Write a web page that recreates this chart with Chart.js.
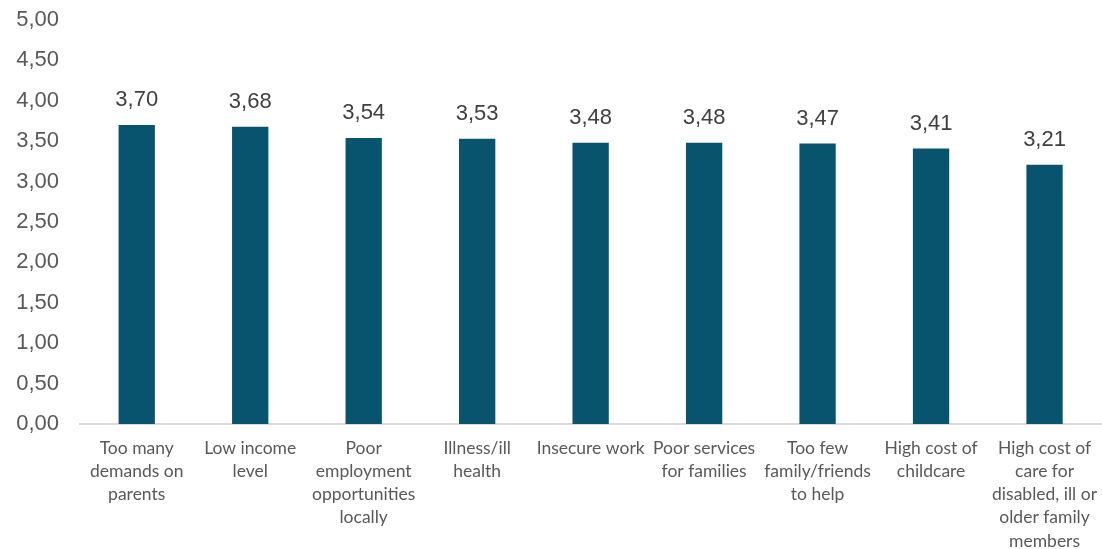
<!DOCTYPE html>
<html>
<head>
<meta charset="utf-8">
<script src="https://cdn.jsdelivr.net/npm/chart.js@4.4.1/dist/chart.umd.min.js"></script>
<style>
  html, body { margin: 0; padding: 0; background: #ffffff; }
  #wrap { width: 1102px; height: 549px; }
</style>
</head>
<body>
<div id="wrap"><canvas id="barChart" width="1102" height="549"></canvas></div>
<script>
// Categories (multi-line labels) and mean scores
const categories = [
    ['Too many', 'demands on', 'parents'],
    ['Low income', 'level'],
    ['Poor', 'employment', 'opportunities', 'locally'],
    ['Illness/ill', 'health'],
    ['Insecure work'],
    ['Poor services', 'for families'],
    ['Too few', 'family/friends', 'to help'],
    ['High cost of', 'childcare'],
    ['High cost of', 'care for', 'disabled, ill or', 'older family', 'members']
];
const scores = [3.70, 3.68, 3.54, 3.53, 3.48, 3.48, 3.47, 3.41, 3.21];
const yTicks = [0, 0.5, 1, 1.5, 2, 2.5, 3, 3.5, 4, 4.5, 5];

const barColor = '#08546f';

// Comma decimal format, two places
function fmt(v) {
    return v.toFixed(2).replace('.', ',');
}

// Value labels drawn above each bar
const valueLabels = {
    id: 'valueLabels',
    afterDatasetsDraw(chart) {
        const ctx = chart.ctx;
        const meta = chart.getDatasetMeta(0);
        ctx.save();
        ctx.font = '22px "Liberation Sans", Arial, sans-serif';
        ctx.fillStyle = '#404040';
        ctx.textAlign = 'center';
        ctx.textBaseline = 'middle';
        meta.data.forEach(function (bar, i) {
            ctx.fillText(fmt(scores[i]), bar.x, bar.y - 25);
        });
        ctx.restore();
    }
};

const ctx = document.getElementById('barChart').getContext('2d');
new Chart(ctx, {
    type: 'bar',
    data: {
        labels: categories,
        datasets: [{
            data: scores,
            backgroundColor: barColor,
            borderWidth: 0,
            barPercentage: 0.32,
            categoryPercentage: 1
        }]
    },
    options: {
        responsive: false,
        animation: false,
        layout: { padding: { top: 20, right: 0, left: 0, bottom: 0 } },
        plugins: {
            legend: { display: false },
            tooltip: { enabled: false }
        },
        scales: {
            y: {
                min: 0,
                max: 5,
                afterBuildTicks: function (axis) {
                    axis.ticks = yTicks.map(v => ({ value: v }));
                },
                afterFit: function (axis) {
                    axis.width = 80;
                    axis.paddingTop = 0;
                    axis.paddingBottom = 0;
                },
                grid: { display: false },
                border: { display: false },
                ticks: {
                    color: '#595959',
                    padding: 13,
                    font: { family: '"Liberation Sans", Arial, sans-serif', size: 22 },
                    callback: v => fmt(v)
                }
            },
            x: {
                afterFit: function (axis) { axis.height = 125; },
                grid: { display: false },
                border: { display: true, color: '#d9d9d9', width: 2 },
                ticks: {
                    color: '#595959',
                    padding: 5,
                    maxRotation: 0,
                    autoSkip: false,
                    font: { family: 'Lato, "Open Sans", sans-serif', size: 17.5, lineHeight: 1.32 }
                }
            }
        }
    },
    plugins: [valueLabels]
});
</script>
</body>
</html>
